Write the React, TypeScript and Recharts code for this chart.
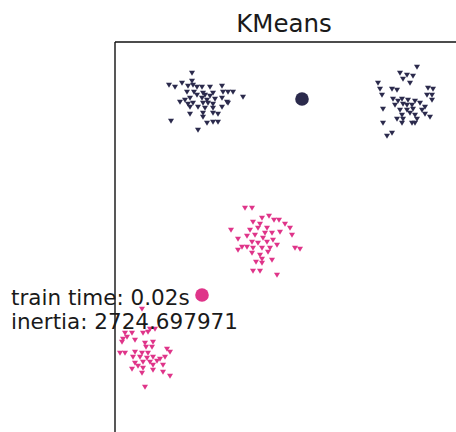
import React from 'react';
import { ScatterChart, Scatter, XAxis, YAxis, ReferenceLine } from 'recharts';

// cluster points (x, y)
const navyTopLeft: [number, number][] = [
  [7.7, 36.7], [7.7, 35.9], [5.4, 35.5], [6.0, 35.3], [6.7, 35.7], [7.3, 35.4], [7.8, 35.5],
  [8.2, 35.3], [8.7, 35.3], [9.5, 35.3], [10.7, 35.4], [7.2, 34.8], [7.9, 34.8], [8.8, 34.7],
  [9.8, 34.7], [10.8, 34.8], [11.3, 34.8], [11.8, 34.8], [8.2, 34.5], [9.0, 34.5], [9.5, 34.4],
  [12.8, 34.3], [6.5, 33.8], [7.0, 34.0], [7.5, 34.2], [8.7, 34.2], [9.2, 34.0], [10.0, 34.1],
  [10.7, 34.2], [11.2, 33.8], [7.3, 33.6], [7.8, 33.7], [8.8, 33.7], [9.3, 33.7], [9.8, 33.6],
  [11.3, 33.7], [7.5, 33.3], [8.3, 33.3], [9.0, 33.2], [9.8, 33.2], [10.7, 33.3], [7.5, 32.6],
  [8.8, 32.7], [9.8, 32.7], [10.3, 32.6], [8.8, 32.3], [5.6, 31.9], [9.2, 31.7], [9.8, 31.8],
  [10.3, 31.8], [8.3, 31.0],
];

const navyTopRight: [number, number][] = [
  [30.2, 37.3], [28.5, 36.7], [29.2, 36.5], [29.8, 36.4], [28.8, 36.1], [29.5, 35.7], [26.3, 35.7],
  [26.5, 35.1], [27.7, 35.1], [28.2, 35.0], [31.3, 35.2], [31.8, 35.1], [26.7, 34.5], [31.2, 34.5],
  [31.7, 34.5], [27.8, 34.1], [28.7, 34.1], [29.3, 34.0], [30.0, 33.9], [30.5, 33.7], [31.7, 34.0],
  [28.0, 33.5], [28.8, 33.6], [29.7, 33.5], [31.0, 33.3], [26.8, 33.1], [29.2, 33.0], [29.8, 33.1],
  [30.7, 33.0], [28.7, 32.5], [29.5, 32.7], [30.0, 32.5], [31.0, 32.6], [28.2, 32.1], [28.8, 32.1],
  [30.2, 32.1], [31.5, 32.3], [28.7, 31.7], [29.7, 31.7], [30.0, 31.7], [26.8, 31.7], [27.7, 30.7],
  [27.2, 30.4], [28.3, 33.9], [29.2, 33.5], [28.5, 33.0],
];

const pinkMiddle: [number, number][] = [
  [13.0, 23.2], [13.7, 23.2], [14.7, 22.2], [15.4, 22.4], [15.9, 22.0], [16.4, 22.0], [11.6, 21.0],
  [13.8, 21.8], [14.5, 21.6], [17.0, 21.6], [17.5, 21.2], [14.3, 21.2], [15.2, 21.2], [13.2, 20.4],
  [14.0, 20.5], [14.8, 20.2], [15.7, 20.7], [16.5, 20.8], [17.7, 20.5], [12.3, 20.1], [12.7, 19.3],
  [13.7, 19.8], [14.3, 19.7], [15.2, 19.8], [15.8, 20.0], [13.2, 19.3], [13.8, 19.2], [14.7, 19.2],
  [15.5, 19.2], [16.2, 19.5], [18.0, 19.2], [18.5, 19.1], [12.3, 19.0], [13.7, 18.7], [14.5, 18.5],
  [15.3, 18.8], [14.7, 18.1], [15.7, 18.0], [14.1, 17.8], [14.7, 17.7], [13.8, 16.9], [14.5, 16.9],
  [16.2, 16.5], [15.0, 20.7], [13.5, 21.0],
];

const pinkBottomLeft: [number, number][] = [
  [2.7, 13.1], [2.8, 10.7], [3.3, 10.8], [4.0, 11.1], [3.5, 11.1], [1.0, 10.7], [1.7, 10.7],
  [0.8, 10.1], [1.2, 10.3], [2.0, 10.0], [3.0, 9.7], [3.8, 9.8], [0.7, 9.8], [3.1, 9.3],
  [3.7, 9.3], [0.5, 8.7], [1.0, 8.7], [2.0, 8.8], [2.7, 8.7], [3.3, 8.7], [5.2, 9.1],
  [5.5, 8.8], [1.8, 8.3], [2.5, 8.3], [3.2, 8.2], [3.8, 8.3], [4.5, 8.1], [5.0, 8.3],
  [2.0, 7.7], [2.8, 7.8], [3.5, 7.8], [4.2, 7.9], [2.3, 7.4], [3.8, 7.5], [4.8, 7.5],
  [1.7, 7.1], [2.8, 7.2], [3.8, 7.0], [4.8, 6.8], [5.5, 6.4], [2.7, 6.7], [3.0, 5.3],
];

const navyCentroid: [number, number][] = [[18.7, 34.1]];
const pinkCentroid: [number, number][] = [[8.7, 14.5]];

const X_DOMAIN: [number, number] = [0, 34.5];
const Y_DOMAIN: [number, number] = [0, 39.8];

const NAVY = '#2b2a4c';
const PINK = '#df3489';

const toRows = (pts: [number, number][]) => pts.map(([x, y]) => ({ x, y }));

const TriDown = (color: string) => (props: any) => {
  const { cx, cy } = props;
  if (cx == null || cy == null) return <g />;
  return (
    <polygon
      points={`${cx - 3},${cy - 2.3} ${cx + 3},${cy - 2.3} ${cx},${cy + 2.8}`}
      fill={color}
    />
  );
};

const Centroid = (color: string) => (props: any) => {
  const { cx, cy } = props;
  if (cx == null || cy == null) return <g />;
  return <circle cx={cx} cy={cy} r={6.8} fill={color} />;
};

const font = '"DejaVu Sans", sans-serif';
const frame = { stroke: '#111', strokeWidth: 1.4 };

export default function App() {
  return (
    <div style={{ position: 'absolute', left: 0, top: 0, width: 456, height: 432, overflow: 'hidden', background: '#fff' }}>
      <ScatterChart width={480} height={460} margin={{ top: 42, left: 115, right: 20, bottom: 20 }}>
        <XAxis type="number" dataKey="x" domain={X_DOMAIN} hide allowDataOverflow />
        <YAxis type="number" dataKey="y" domain={Y_DOMAIN} hide allowDataOverflow />
        <ReferenceLine x={X_DOMAIN[0]} {...frame} />
        <ReferenceLine y={Y_DOMAIN[1]} {...frame} />
        <ReferenceLine x={X_DOMAIN[1]} {...frame} />
        <ReferenceLine y={Y_DOMAIN[0]} {...frame} />
        <Scatter data={toRows(navyTopLeft)} shape={TriDown(NAVY)} isAnimationActive={false} />
        <Scatter data={toRows(navyTopRight)} shape={TriDown(NAVY)} isAnimationActive={false} />
        <Scatter data={toRows(pinkMiddle)} shape={TriDown(PINK)} isAnimationActive={false} />
        <Scatter data={toRows(pinkBottomLeft)} shape={TriDown(PINK)} isAnimationActive={false} />
        <Scatter data={toRows(navyCentroid)} shape={Centroid(NAVY)} isAnimationActive={false} />
        <Scatter data={toRows(pinkCentroid)} shape={Centroid(PINK)} isAnimationActive={false} />
      </ScatterChart>
      <svg width={456} height={432} style={{ position: 'absolute', left: 0, top: 0, pointerEvents: 'none' }}>
        <text x={284} y={32} textAnchor="middle" fontFamily={font} fontSize={24.5} fill="#1a1a1a">KMeans</text>
        <text x={11} y={305} fontFamily={font} fontSize={21.5} fill="#1a1a1a">train time: 0.02s</text>
        <text x={11} y={329} fontFamily={font} fontSize={21.5} fill="#1a1a1a">inertia: 2724.697971</text>
      </svg>
    </div>
  );
}
